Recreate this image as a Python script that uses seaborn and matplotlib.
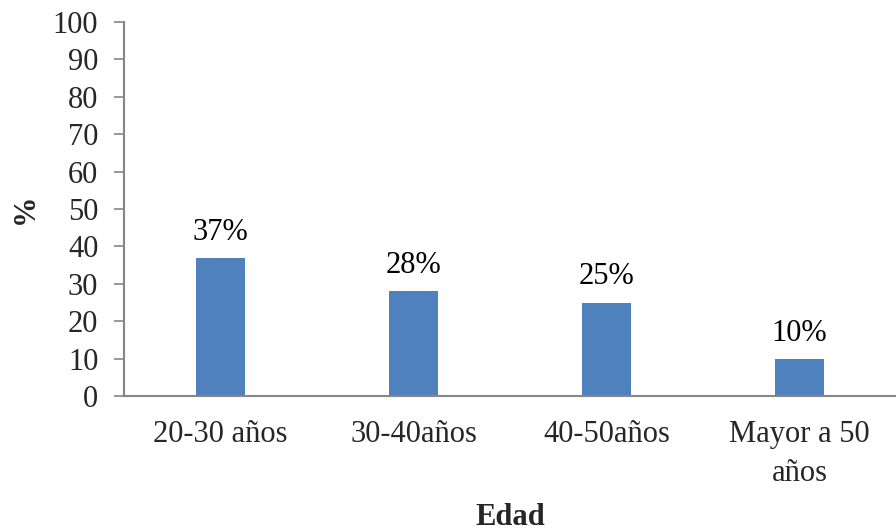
import matplotlib
matplotlib.use("Agg")
import matplotlib.pyplot as plt
import seaborn as sns
import pandas as pd

categorias = ["20-30 años", "30-40años", "40-50años", "Mayor a 50\naños"]
porcentajes = [37, 28, 25, 10]
etiquetas = ["37%", "28%", "25%", "10%"]
yticks = list(range(0, 101, 10))

sns.set_theme(style="white")
plt.rcParams["font.family"] = ["Liberation Serif", "DejaVu Serif"]

df = pd.DataFrame({"Edad": categorias, "Porcentaje": porcentajes})

fig = plt.figure(figsize=(8.96, 5.32), dpi=100)
ax = fig.add_axes([0.1384, 0.2556, 0.8616, 0.7030])

sns.barplot(data=df, x="Edad", y="Porcentaje", color="#4F81BD",
            saturation=1, width=0.25, linewidth=0, ax=ax)

for patch, txt in zip(ax.patches, etiquetas):
    ax.annotate(txt, (patch.get_x() + patch.get_width() / 2, patch.get_height()),
                xytext=(0, 8), textcoords="offset points",
                ha="center", va="bottom", fontsize=22, color="black")

ax.set_ylim(0, 100)
ax.set_xlim(-0.5, 3.5)
ax.set_yticks(yticks)
ax.set_yticklabels([str(v) for v in yticks], fontsize=22)
ax.tick_params(axis="y", direction="out", length=7, width=1.2,
               color="#868686", pad=11.5, left=True)
ax.tick_params(axis="x", length=0, pad=17, labelsize=22)
for lbl in ax.get_xticklabels():
    lbl.set_linespacing(1.45)

for s in ["top", "right"]:
    ax.spines[s].set_visible(False)
for s in ["left", "bottom"]:
    ax.spines[s].set_color("#868686")
    ax.spines[s].set_linewidth(1.5)

ax.set_xlabel("Edad", fontsize=22, fontweight="bold")
ax.set_ylabel("%", fontsize=22, fontweight="bold")
ax.xaxis.set_label_coords(0.5, -0.3235, transform=ax.transAxes)
ax.xaxis.label.set_va("center")
ax.yaxis.set_label_coords(-0.128, 0.5)
ax.yaxis.label.set_va("center")
ax.grid(False)

fig.savefig("out.png", dpi=100)
